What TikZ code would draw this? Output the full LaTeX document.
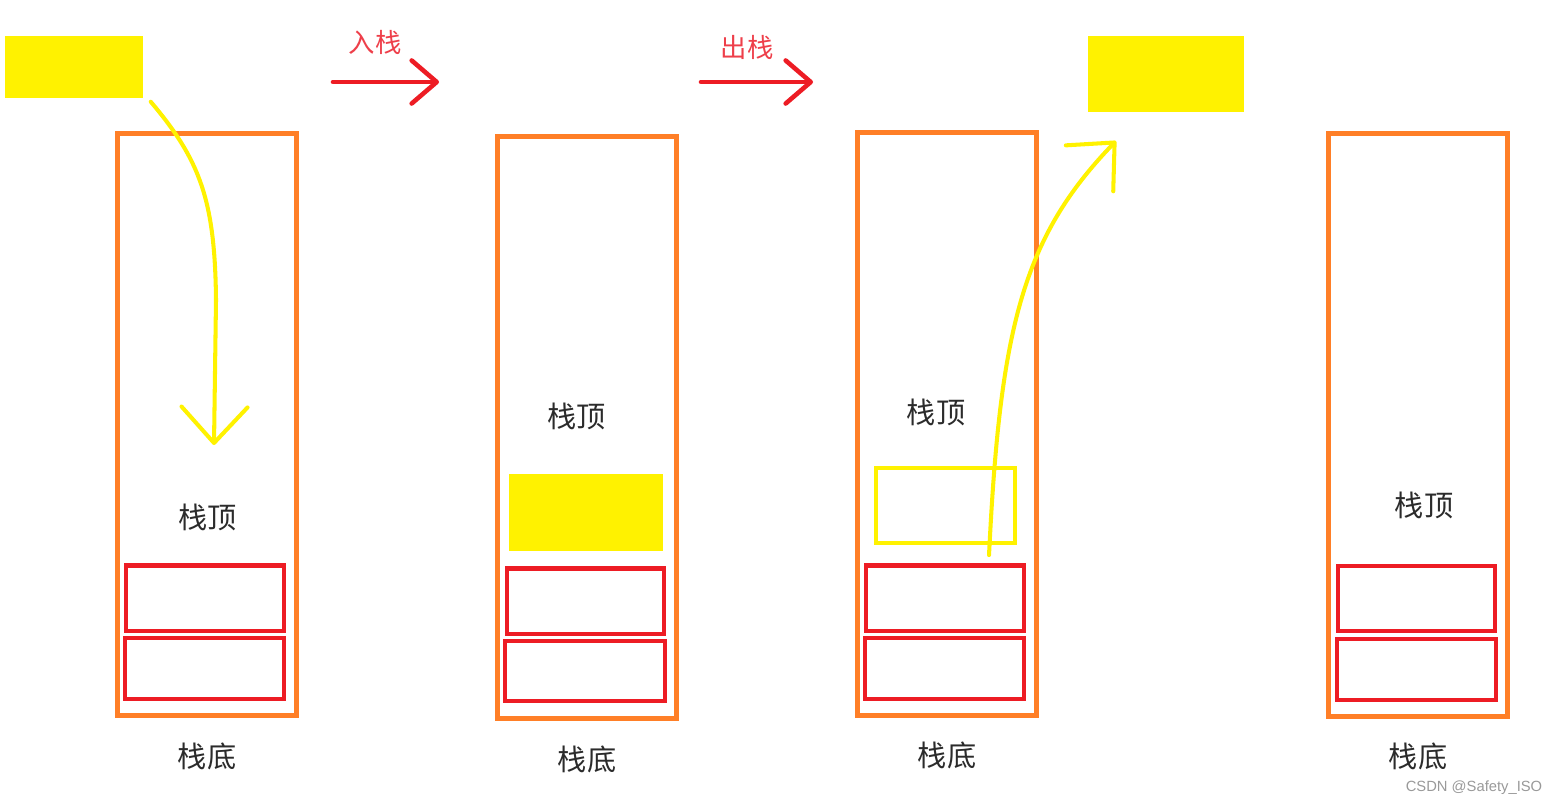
\documentclass[tikz,border=0pt]{standalone}
\usepackage{fontspec}
\newfontfamily\cjk{Noto Sans CJK SC}
\newfontfamily\wmfont{Liberation Sans}
\usepackage{xcolor}
\usepackage{tikz}
\usetikzlibrary{arrows.meta,positioning}
\definecolor{stkorange}{HTML}{FF7F27}
\definecolor{cellred}{HTML}{ED1C24}
\definecolor{itemyellow}{HTML}{FFF200}
\definecolor{labelred}{HTML}{EE3F4A}
\definecolor{txtgray}{HTML}{2B2B2B}

\begin{document}
\begin{tikzpicture}[
  x=0.01cm, y=-0.01cm,
  font=\cjk\fontsize{8.3}{10}\selectfont,
  stackbox/.style={draw=stkorange, line width=1.4pt, inner sep=0pt,
                   minimum width=1.79cm, minimum height=5.82cm},
  cell/.style={draw=cellred, line width=1.15pt, inner sep=0pt,
               minimum width=1.57cm, minimum height=0.65cm},
  celllow/.style={cell, minimum width=1.59cm, minimum height=0.61cm},
  item/.style={fill=itemyellow, inner sep=0pt},
  itemout/.style={draw=itemyellow, line width=1.15pt, inner sep=0pt},
  lbl/.style={text=txtgray, inner sep=0pt},
  oplbl/.style={text=labelred, inner sep=0pt, font=\cjk\fontsize{7.5}{9}\selectfont},
  opar/.style={draw=cellred, line width=1.3pt, line cap=round,
               -{Straight Barb[length=2.5mm, width=4.3mm, round]}},
  handar/.style={draw=itemyellow, line width=1.15pt, line cap=round,
                 -{Straight Barb[length=3.6mm, width=6.6mm, round]}},
  wm/.style={text=black!40, inner sep=0pt, font=\wmfont\fontsize{4.2}{5}\selectfont}
]
\useasboundingbox (0,0) rectangle (1557,805);

% element waiting to be pushed
\node[item, minimum width=1.38cm, minimum height=0.62cm] (src) at (74,67) {};

% stack 1
\node[stackbox] (s1) at (207,424.5) {};
\node[cell] (s1a) at (205,598) {};
\node[celllow] (s1b) at (204.5,668.5) {};
\node[lbl] (s1top) at (207.5,517) {栈顶};
\node[lbl, below=0.24cm of s1] (s1bot) {栈底};

% stack 2, after push
\node[stackbox] (s2) at (587,427.5) {};
\node[item, minimum width=1.54cm, minimum height=0.77cm] (s2item) at (586,512.5) {};
\node[cell] (s2a) at (585.5,601) {};
\node[celllow, minimum width=1.60cm, minimum height=0.60cm] (s2b) at (585,671) {};
\node[lbl] (s2top) at (576.5,416) {栈顶};
\node[lbl, below=0.24cm of s2] (s2bot) {栈底};

% stack 3, popping
\node[stackbox] (s3) at (947,424) {};
\node[itemout, minimum width=1.39cm, minimum height=0.75cm] (s3item) at (945.5,505.5) {};
\node[cell] (s3a) at (945,598) {};
\node[celllow] (s3b) at (944.5,668.5) {};
\node[lbl] (s3top) at (936,412) {栈顶};
\node[lbl, below=0.24cm of s3] (s3bot) {栈底};

% popped element
\node[item, minimum width=1.55cm, minimum height=0.76cm] (dst) at (1166,74) {};

% stack 4, after pop
\node[stackbox] (s4) at (1418,425) {};
\node[cell] (s4a) at (1416.5,598.5) {};
\node[celllow] (s4b) at (1416.5,669.5) {};
\node[lbl] (s4top) at (1424,505) {栈顶};
\node[lbl, below=0.24cm of s4] (s4bot) {栈底};

% operations
\coordinate (in0) at (333,82);
\coordinate (in1) at (439,82);
\draw[opar] (in0) -- (in1);
\node[oplbl] (inlbl) at (375,42) {入栈};
\coordinate (out0) at (701,82);
\coordinate (out1) at (813,82);
\draw[opar] (out0) -- (out1);
\node[oplbl] (outlbl) at (747,47) {出栈};

% hand drawn moves
\coordinate (pushtip) at (214,445);
\draw[handar] ([xshift=0.07cm,yshift=-0.03cm]src.south east)
  .. controls (200,160) and (215,200) .. (216,300) -- (pushtip);
\coordinate (poptip) at (1116,141);
\draw[handar] ([xshift=0.435cm,yshift=-0.1cm]s3item.south)
  .. controls (1000,330) and (1022,238) .. (poptip);

\node[wm] (mark) at (1474,788) {CSDN @Safety\_ISO};
\end{tikzpicture}
\end{document}
